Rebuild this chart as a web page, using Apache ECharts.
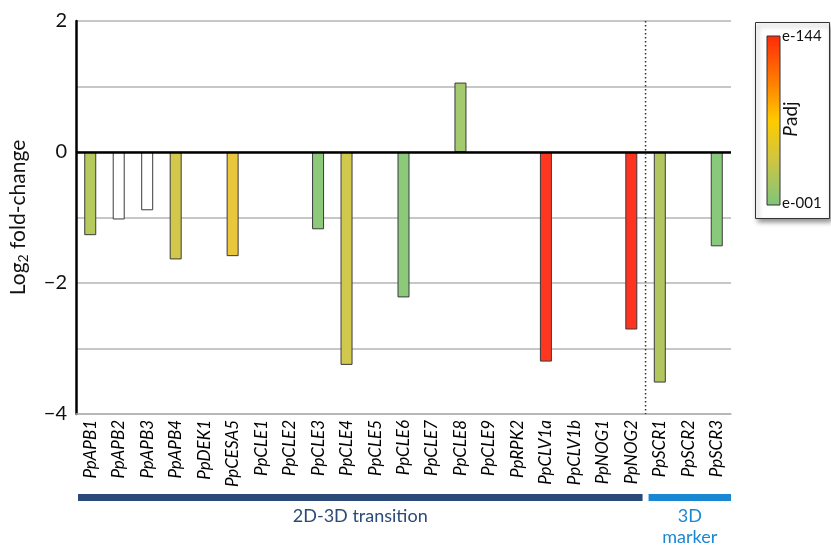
<!DOCTYPE html>
<html>
<head>
<meta charset="utf-8">
<script src="https://cdn.jsdelivr.net/npm/echarts@6/dist/echarts.min.js"></script>
<style>
  html, body { margin: 0; padding: 0; background: #fff; }
  #chart { width: 831px; height: 545px; }
</style>
</head>
<body>
<div id="chart"></div>
<script>
// Genes measured, in plotting order
const genes = ['PpAPB1', 'PpAPB2', 'PpAPB3', 'PpAPB4', 'PpDEK1', 'PpCESA5', 'PpCLE1', 'PpCLE2',
  'PpCLE3', 'PpCLE4', 'PpCLE5', 'PpCLE6', 'PpCLE7', 'PpCLE8', 'PpCLE9', 'PpRPK2',
  'PpCLV1a', 'PpCLV1b', 'PpNOG1', 'PpNOG2', 'PpSCR1', 'PpSCR2', 'PpSCR3'];
// Log2 fold-change per gene (null = not significant / not plotted)
const log2FC = [-1.27, -1.03, -0.89, -1.64, null, -1.59, null, null,
  -1.18, -3.25, null, -2.22, null, 1.06, null, null,
  -3.20, null, null, -2.71, -3.52, null, -1.44];
// Fill colour on the Padj scale for each bar
const padjColors = ['#b5c95c', '#ffffff', '#ffffff', '#d3c84c', null, '#e9c63c', null, null,
  '#8dc97a', '#d1c94e', null, '#8dc97a', null, '#a3ca6e', null, null,
  '#ff3620', null, null, '#ff3420', '#b3c55f', null, '#89c97c'];
// Gene groups shown under the axis
const groups = [
  { name: '2D-3D transition', from: 'PpAPB1', to: 'PpNOG2', color: '#2b4a78' },
  { name: '3D\nmarker', from: 'PpSCR1', to: 'PpSCR3', color: '#1a87d2' }
];
const yTicks = [-4, -2, 0, 2];

const FONT = 'Lato, "Open Sans", sans-serif';
const chart = echarts.init(document.getElementById('chart'));

chart.setOption({
  animation: false,
  backgroundColor: '#fff',
  grid: { left: 75, right: 100, top: 21, bottom: 131 },
  xAxis: {
    type: 'category',
    data: genes,
    axisLine: { onZero: false, lineStyle: { color: '#b4b4b4', width: 1.5 } },
    axisTick: { show: false },
    axisLabel: {
      rotate: 90, interval: 0, margin: 6,
      fontFamily: FONT, fontStyle: 'italic', fontSize: 17, color: '#000'
    },
    splitLine: { show: false }
  },
  yAxis: {
    type: 'value',
    min: -4, max: 2, interval: 1,
    name: 'Log{sub|2} fold-change',
    nameLocation: 'middle',
    nameGap: 47,
    nameRotate: 90,
    nameTextStyle: {
      fontFamily: FONT, fontSize: 21, color: '#111',
      rich: { sub: { fontFamily: FONT, fontSize: 14, color: '#111', padding: [0, 0, -9, 0] } }
    },
    axisLine: { show: true, lineStyle: { color: '#000', width: 2.5 } },
    axisTick: { show: false },
    axisLabel: {
      margin: 9, fontFamily: FONT, fontSize: 20, color: '#111',
      formatter: v => yTicks.includes(v) ? (v < 0 ? '\u2212' + Math.abs(v) : String(v)) : ''
    },
    splitLine: { lineStyle: { color: '#b4b4b4', width: 1.5 } }
  },
  series: [{
    type: 'bar',
    barWidth: 12,
    data: log2FC.map((v, i) => ({
      value: v,
      itemStyle: { color: padjColors[i] || '#fff', borderColor: '#3a3a3a', borderWidth: 1 }
    })),
    markLine: {
      silent: true, symbol: 'none', label: { show: false },
      lineStyle: { color: '#000', width: 2.5, type: 'solid' },
      data: [{ yAxis: 0 }]
    },
    z: 3
  }]
});

// Annotation layer: group separator, group bars and the Padj colour key
function px(name) { return chart.convertToPixel({ xAxisIndex: 0 }, name); }
const step = (px(genes[genes.length - 1]) - px(genes[0])) / (genes.length - 1);
const yTop = chart.convertToPixel({ yAxisIndex: 0 }, 2);
const yBottom = chart.convertToPixel({ yAxisIndex: 0 }, -4);
const splitX = (px('PpNOG2') + px('PpSCR1')) / 2;

const graphics = [{
  type: 'line', silent: true, z: 10,
  shape: { x1: splitX, y1: yTop, x2: splitX, y2: yBottom },
  style: { stroke: '#333', lineWidth: 1.5, lineDash: [1.5, 2.5] }
}];

groups.forEach((g, gi) => {
  let x0 = px(g.from) - step / 2;
  let x1 = px(g.to) + step / 2;
  if (gi === 0) { x0 += 2; x1 -= 3; } else { x0 += 3; }
  graphics.push({
    type: 'rect', silent: true,
    shape: { x: x0, y: 494, width: x1 - x0, height: 7 },
    style: { fill: g.color }
  });
  graphics.push({
    type: 'text', silent: true,
    x: (x0 + x1) / 2, y: 506,
    style: {
      text: g.name, fill: g.color, fontFamily: FONT, fontSize: 18,
      align: 'center', verticalAlign: 'top', lineHeight: 21
    }
  });
});

// Padj colour key
graphics.push({
  type: 'rect', silent: true,
  shape: { x: 755.5, y: 22.5, width: 74, height: 196 },
  style: {
    fill: '#fff', stroke: '#333', lineWidth: 1,
    shadowBlur: 5, shadowOffsetX: 2, shadowOffsetY: 3, shadowColor: 'rgba(0,0,0,0.45)'
  }
});
graphics.push({
  type: 'rect', silent: true,
  shape: { x: 767, y: 36, width: 13, height: 169 },
  style: {
    stroke: '#333', lineWidth: 1,
    fill: new echarts.graphic.LinearGradient(0, 0, 0, 1, [
      { offset: 0, color: '#ff2a0a' },
      { offset: 0.28, color: '#ff8000' },
      { offset: 0.5, color: '#ffcb00' },
      { offset: 0.74, color: '#cdc545' },
      { offset: 1, color: '#7fc57b' }
    ])
  }
});
graphics.push({
  type: 'text', silent: true, x: 782, y: 36,
  style: { text: 'e-144', fill: '#111', fontFamily: FONT, fontSize: 15, verticalAlign: 'middle' }
});
graphics.push({
  type: 'text', silent: true, x: 782, y: 203,
  style: { text: 'e-001', fill: '#111', fontFamily: FONT, fontSize: 15, verticalAlign: 'middle' }
});
graphics.push({
  type: 'text', silent: true, x: 791, y: 119, rotation: Math.PI / 2,
  style: {
    text: '{i|P}adj', fill: '#111', fontFamily: FONT, fontSize: 19,
    align: 'center', verticalAlign: 'middle',
    rich: { i: { fontStyle: 'italic', fontFamily: FONT, fontSize: 19, fill: '#111' } }
  }
});

chart.setOption({ graphic: graphics });
</script>
</body>
</html>
